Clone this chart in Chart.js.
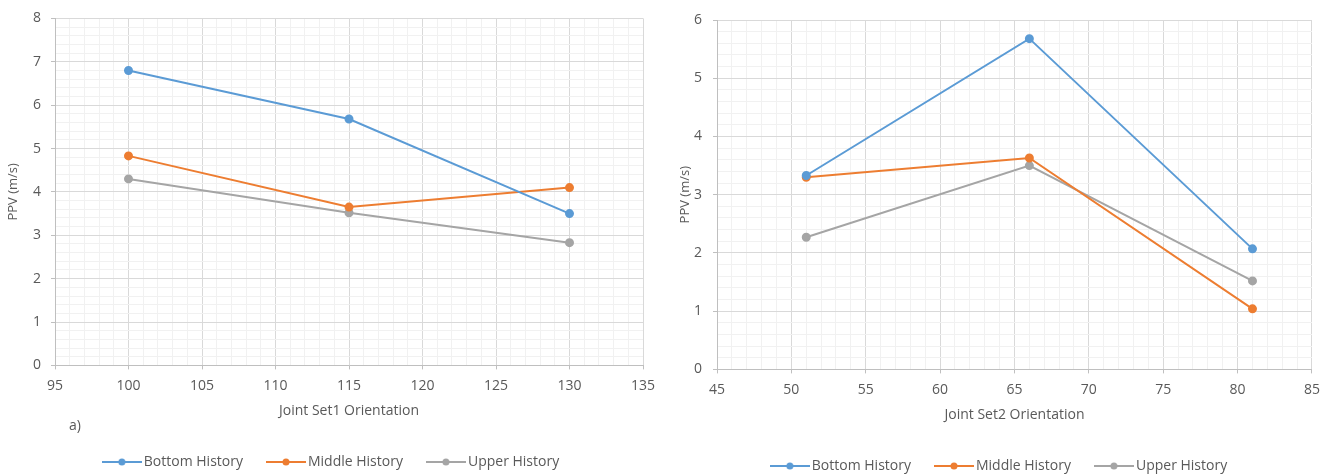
<!DOCTYPE html>
<html>
<head>
<meta charset="utf-8">
<script src="https://cdn.jsdelivr.net/npm/chart.js@4/dist/chart.umd.min.js"></script>
<style>
  body { margin: 0; background: #fff; width: 1328px; height: 476px; position: relative; overflow: hidden; font-family: "Open Sans", sans-serif; }
  .box { position: absolute; top: 0; }
  #leftBox { left: 0; width: 665px; height: 479px; }
  #rightBox { left: 665px; width: 663px; height: 483px; }
  #tag { position: absolute; left: 69px; top: 415px; font-size: 14px; color: #595959; }
</style>
</head>
<body>
<div class="box" id="leftBox"><canvas id="chart1"></canvas></div>
<div class="box" id="rightBox"><canvas id="chart2"></canvas></div>
<div id="tag">a)</div>
<script>
// data
const seriesNames = ['Bottom History', 'Middle History', 'Upper History'];
const seriesColors = ['#5B9BD5', '#ED7D31', '#A5A5A5'];

const set1Orient = [100, 115, 130];
const set1Bottom = [6.8, 5.68, 3.5];
const set1Middle = [4.83, 3.65, 4.1];
const set1Upper = [4.3, 3.52, 2.83];
const set1XRange = [95, 135];
const set1YRange = [0, 8];

const set2Orient = [51, 66, 81];
const set2Bottom = [3.33, 5.68, 2.07];
const set2Middle = [3.3, 3.63, 1.04];
const set2Upper = [2.27, 3.5, 1.52];
const set2XRange = [45, 85];
const set2YRange = [0, 6];

const textColor = '#595959';
const fontFamily = '"Open Sans", sans-serif';

// little line-with-dot used as legend marker
function legendMark(color) {
    const c = document.createElement('canvas');
    c.width = 40; c.height = 10;
    const g = c.getContext('2d');
    g.strokeStyle = color; g.lineWidth = 2;
    g.beginPath(); g.moveTo(0, 5); g.lineTo(40, 5); g.stroke();
    g.fillStyle = color;
    g.beginPath(); g.arc(20, 5, 3.5, 0, Math.PI * 2); g.fill();
    return c;
}
const marks = seriesColors.map(legendMark);

function isWhole(v, step) {
    const r = v / step;
    return Math.abs(r - Math.round(r)) < 1e-6;
}

// nudge legend sideways (excel centres it a bit right of ours)
const legendShift = {
    id: 'legendShift',
    afterLayout(chart, args, opts) {
        if (!chart.legend) return;
        chart.legend.left += opts.dx || 0;
        chart.legend.right += opts.dx || 0;
    }
};

function makeChart(id, xs, series, xRange, yRange, xTitle, yWidth, yPad, legendDx, pad) {
    const datasets = series.map((vals, i) => ({
        label: seriesNames[i],
        data: xs.map((x, k) => ({ x: x, y: vals[k] })),
        borderColor: seriesColors[i],
        backgroundColor: seriesColors[i],
        borderWidth: 2,
        pointRadius: 3.5,
        pointStyle: 'circle',
        showLine: true
    }));

    return new Chart(document.getElementById(id), {
        type: 'scatter',
        data: { datasets: datasets },
        plugins: [legendShift],
        options: {
            responsive: true,
            maintainAspectRatio: false,
            animation: false,
            layout: { padding: pad },
            scales: {
                x: {
                    type: 'linear',
                    min: xRange[0], max: xRange[1],
                    ticks: {
                        stepSize: 1, autoSkip: false, padding: 8,
                        maxRotation: 0, minRotation: 0,
                        color: textColor, font: { family: fontFamily, size: 14 },
                        callback: v => isWhole(v, 5) ? v : ''
                    },
                    grid: {
                        color: c => isWhole(c.tick.value, 5) ? '#d9d9d9' : '#f1f1f1',
                        tickColor: c => isWhole(c.tick.value, 5) ? '#bfbfbf' : 'rgba(0,0,0,0)',
                        tickLength: 4
                    },
                    border: { color: '#bfbfbf' },
                    title: {
                        display: true, text: xTitle, color: textColor,
                        font: { family: fontFamily, size: 14 },
                        padding: { top: 0, bottom: 8 }
                    }
                },
                y: {
                    min: yRange[0], max: yRange[1],
                    afterFit: s => { s.width = yWidth; },
                    ticks: {
                        stepSize: 0.2, autoSkip: false, padding: yPad,
                        color: textColor, font: { family: fontFamily, size: 14 },
                        callback: v => isWhole(v, 1) ? Math.round(v) : ''
                    },
                    grid: {
                        color: c => isWhole(c.tick.value, 1) ? '#d9d9d9' : '#f1f1f1',
                        tickColor: c => isWhole(c.tick.value, 1) ? '#bfbfbf' : 'rgba(0,0,0,0)',
                        tickLength: 4
                    },
                    border: { color: '#bfbfbf' },
                    title: {
                        display: true, text: 'PPV (m/s)', color: textColor,
                        font: { family: fontFamily, size: 13 },
                        padding: 0
                    }
                }
            },
            plugins: {
                legendShift: { dx: legendDx },
                legend: {
                    position: 'bottom',
                    labels: {
                        usePointStyle: true, pointStyleWidth: 30,
                        padding: 28, color: textColor,
                        font: { family: fontFamily, size: 14 },
                        generateLabels: chart => {
                            const items = Chart.defaults.plugins.legend.labels.generateLabels(chart);
                            items.forEach((it, i) => { it.pointStyle = marks[i]; });
                            return items;
                        }
                    }
                },
                tooltip: { enabled: false }
            }
        }
    });
}

makeChart('chart1', set1Orient, [set1Bottom, set1Middle, set1Upper],
    set1XRange, set1YRange, 'Joint Set1 Orientation', 50, 10, 9,
    { left: 5, right: 22, top: 17, bottom: 0 });
makeChart('chart2', set2Orient, [set2Bottom, set2Middle, set2Upper],
    set2XRange, set2YRange, 'Joint Set2 Orientation', 40, 11, 6,
    { left: 12, right: 15, top: 20, bottom: 0 });
</script>
</body>
</html>
